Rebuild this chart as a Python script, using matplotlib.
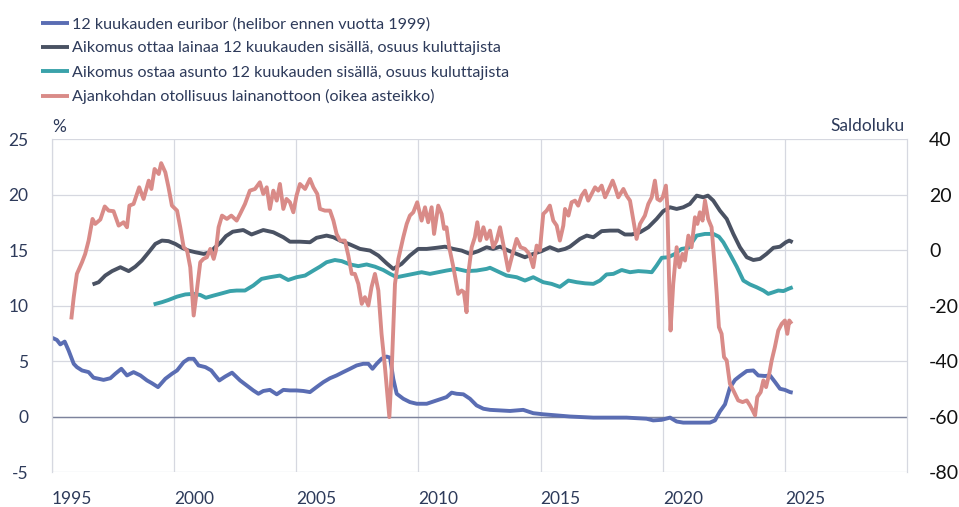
import matplotlib

matplotlib.use("Agg")
import matplotlib.pyplot as plt  # noqa: E402

plt.rcParams["font.family"] = ["Lato", "DejaVu Sans"]

NAVY = "#2d3a5a"
BLUE = "#5a6db3"
GRAY = "#4a5263"
TEAL = "#3aa2aa"
PINK = "#d98b88"
GRID = "#d6d8e0"

# 12 month euribor (helibor before 1999), %
euribor_x = [1995.0, 1995.2, 1995.34, 1995.52, 1995.68, 1995.89, 1996.02, 1996.23, 1996.5, 1996.7,
             1996.91, 1997.11, 1997.39, 1997.59, 1997.84, 1998.07, 1998.34, 1998.62, 1998.89, 1999.09,
             1999.34, 1999.64, 1999.91, 2000.12, 2000.39, 2000.59, 2000.8, 2001.0, 2001.28, 2001.52,
             2001.68, 2001.85, 2002.09, 2002.37, 2002.7, 2002.97, 2003.24, 2003.45, 2003.65, 2003.92,
             2004.2, 2004.47, 2004.74, 2005.01, 2005.29, 2005.56, 2005.83, 2006.11, 2006.38, 2006.65,
             2006.92, 2007.2, 2007.47, 2007.74, 2007.95, 2008.12, 2008.29, 2008.49, 2008.7, 2008.84,
             2008.97, 2009.11, 2009.38, 2009.65, 2009.93, 2010.34, 2010.61, 2010.95, 2011.15, 2011.36,
             2011.56, 2011.84, 2012.11, 2012.38, 2012.66, 2012.93, 2013.34, 2013.75, 2014.29, 2014.7,
             2015.11, 2015.66, 2016.2, 2017.16, 2018.52, 2019.34, 2019.61, 2019.95, 2020.3, 2020.57,
             2020.84, 2021.25, 2021.93, 2022.14, 2022.34, 2022.55, 2022.75, 2022.96, 2023.16, 2023.44,
             2023.71, 2023.91, 2024.19, 2024.39, 2024.6, 2024.8, 2025.0, 2025.21, 2025.32]
euribor_y = [7.1, 6.9, 6.5, 6.75, 5.95, 4.75, 4.45, 4.15, 4.0, 3.5,
             3.4, 3.3, 3.45, 3.85, 4.3, 3.7, 4.0, 3.7, 3.25, 3.0,
             2.65, 3.4, 3.85, 4.15, 4.9, 5.2, 5.2, 4.6, 4.45, 4.15,
             3.7, 3.25, 3.6, 3.95, 3.25, 2.8, 2.35, 2.05, 2.3, 2.4,
             2.0, 2.4, 2.35, 2.35, 2.3, 2.2, 2.65, 3.1, 3.45, 3.7,
             4.0, 4.3, 4.6, 4.75, 4.75, 4.3, 4.75, 5.2, 5.4, 5.3,
             3.4, 2.05, 1.6, 1.3, 1.15, 1.15, 1.35, 1.6, 1.75, 2.15,
             2.05, 2.0, 1.6, 1.0, 0.7, 0.6, 0.55, 0.5, 0.6, 0.3,
             0.2, 0.1, 0.0, -0.1, -0.1, -0.2, -0.35, -0.3, -0.1, -0.45,
             -0.55, -0.55, -0.55, -0.35, 0.45, 1.1, 2.6, 3.3, 3.65, 4.1,
             4.15, 3.7, 3.65, 3.7, 3.1, 2.5, 2.4, 2.2, 2.15]

# intends to take a loan within 12 months, share of consumers, %
loan_x = [1996.66, 1996.91, 1997.18, 1997.46, 1997.8, 1998.14, 1998.41, 1998.68, 1998.96, 1999.23,
          1999.5, 1999.77, 2000.05, 2000.32, 2000.59, 2000.87, 2001.21, 2001.48, 2001.68, 2001.89,
          2002.12, 2002.4, 2002.83, 2003.17, 2003.65, 2004.06, 2004.47, 2004.74, 2005.15, 2005.56,
          2005.83, 2006.24, 2006.52, 2006.79, 2007.2, 2007.61, 2008.02, 2008.36, 2008.7, 2008.97,
          2009.31, 2009.65, 2009.99, 2010.34, 2010.74, 2011.09, 2011.43, 2011.77, 2012.11, 2012.45,
          2012.79, 2013.06, 2013.34, 2013.68, 2014.02, 2014.36, 2014.7, 2015.04, 2015.38, 2015.72,
          2016.0, 2016.2, 2016.61, 2016.89, 2017.16, 2017.5, 2017.84, 2018.18, 2018.45, 2018.73,
          2019.07, 2019.41, 2019.75, 2020.02, 2020.3, 2020.57, 2020.84, 2021.11, 2021.39, 2021.66,
          2021.85, 2022.07, 2022.34, 2022.62, 2022.89, 2023.16, 2023.44, 2023.71, 2023.98, 2024.25,
          2024.53, 2024.8, 2025.04, 2025.18, 2025.32]
loan_y = [11.9, 12.1, 12.7, 13.1, 13.45, 13.1, 13.5, 14.05, 14.8, 15.55,
          15.85, 15.8, 15.55, 15.2, 14.95, 14.8, 14.65, 14.8, 15.25, 15.65,
          16.25, 16.65, 16.8, 16.4, 16.8, 16.6, 16.15, 15.75, 15.75, 15.7,
          16.1, 16.3, 16.15, 15.85, 15.5, 15.1, 14.95, 14.5, 13.8, 13.3,
          13.75, 14.5, 15.1, 15.1, 15.2, 15.3, 15.1, 14.95, 14.65, 14.9,
          15.25, 15.1, 15.3, 14.95, 14.65, 14.35, 14.65, 14.9, 15.25, 14.95,
          15.1, 15.3, 16.0, 16.3, 16.15, 16.7, 16.75, 16.75, 16.4, 16.4,
          16.6, 17.05, 17.8, 18.5, 18.85, 18.7, 18.85, 19.15, 19.9, 19.75,
          19.9, 19.45, 18.55, 17.8, 16.45, 15.25, 14.35, 14.1, 14.2, 14.65,
          15.2, 15.3, 15.7, 15.85, 15.7]

# intends to buy a dwelling within 12 months, share of consumers, %
house_x = [1999.16, 1999.5, 1999.77, 2000.12, 2000.46, 2000.8, 2001.07, 2001.3, 2001.62, 2001.96,
           2002.29, 2002.56, 2002.9, 2003.24, 2003.58, 2003.92, 2004.33, 2004.67, 2005.01, 2005.36,
           2005.7, 2005.97, 2006.24, 2006.58, 2006.86, 2007.2, 2007.54, 2007.88, 2008.22, 2008.56,
           2008.84, 2009.11, 2009.45, 2009.79, 2010.13, 2010.47, 2010.81, 2011.15, 2011.56, 2011.97,
           2012.38, 2012.79, 2012.93, 2013.27, 2013.61, 2014.02, 2014.36, 2014.7, 2015.11, 2015.45,
           2015.79, 2016.14, 2016.48, 2016.82, 2017.16, 2017.43, 2017.7, 2017.98, 2018.32, 2018.66,
           2019.0, 2019.34, 2019.55, 2019.75, 2019.96, 2020.23, 2020.5, 2020.77, 2021.05, 2021.39,
           2021.73, 2022.07, 2022.3, 2022.48, 2022.75, 2023.03, 2023.3, 2023.57, 2023.84, 2024.12,
           2024.32, 2024.53, 2024.73, 2024.94, 2025.14, 2025.32]
house_y = [10.1, 10.3, 10.5, 10.8, 11.0, 11.05, 10.95, 10.7, 10.9, 11.1,
           11.3, 11.35, 11.35, 11.8, 12.4, 12.55, 12.7, 12.3, 12.55, 12.7,
           13.15, 13.5, 13.9, 14.1, 14.0, 13.7, 13.55, 13.7, 13.5, 13.2,
           12.85, 12.55, 12.7, 12.85, 13.0, 12.85, 13.0, 13.15, 13.3, 13.1,
           13.15, 13.3, 13.4, 13.05, 12.7, 12.55, 12.25, 12.55, 12.1, 11.95,
           11.68, 12.25, 12.1, 12.0, 11.95, 12.25, 12.8, 12.85, 13.2, 13.0,
           13.1, 13.05, 13.0, 13.6, 14.3, 14.35, 14.65, 15.1, 15.2, 16.3,
           16.45, 16.45, 16.2, 15.7, 14.65, 13.5, 12.25, 11.9, 11.65, 11.35,
           11.05, 11.2, 11.35, 11.3, 11.5, 11.65]

# favourability of the time to take a loan, balance figure (right axis)
timing_x = [1995.79, 1995.89, 1996.02, 1996.23, 1996.36, 1996.5, 1996.66, 1996.77, 1996.98, 1997.16,
            1997.32, 1997.52, 1997.73, 1997.93, 1998.07, 1998.17, 1998.34, 1998.57, 1998.75, 1998.96,
            1999.07, 1999.2, 1999.37, 1999.47, 1999.64, 1999.77, 1999.91, 2000.12, 2000.25, 2000.39,
            2000.53, 2000.66, 2000.8, 2000.93, 2001.07, 2001.2, 2001.34, 2001.48, 2001.62, 2001.71,
            2001.82, 2001.96, 2002.16, 2002.34, 2002.56, 2002.7, 2002.9, 2003.1, 2003.31, 2003.51,
            2003.65, 2003.79, 2003.92, 2004.06, 2004.2, 2004.33, 2004.47, 2004.6, 2004.74, 2004.88,
            2005.01, 2005.15, 2005.36, 2005.56, 2005.7, 2005.86, 2005.97, 2006.17, 2006.38, 2006.52,
            2006.65, 2006.79, 2006.99, 2007.13, 2007.27, 2007.4, 2007.54, 2007.68, 2007.81, 2007.95,
            2008.08, 2008.22, 2008.36, 2008.49, 2008.63, 2008.81, 2008.9, 2009.04, 2009.18, 2009.38,
            2009.52, 2009.65, 2009.79, 2009.95, 2010.13, 2010.27, 2010.4, 2010.54, 2010.64, 2010.81,
            2010.95, 2011.05, 2011.15, 2011.26, 2011.43, 2011.63, 2011.77, 2011.86, 2011.97, 2012.04,
            2012.18, 2012.31, 2012.41, 2012.52, 2012.66, 2012.79, 2012.93, 2013.06, 2013.2, 2013.34,
            2013.47, 2013.68, 2013.82, 2014.02, 2014.18, 2014.36, 2014.54, 2014.7, 2014.84, 2014.97,
            2015.11, 2015.25, 2015.38, 2015.52, 2015.66, 2015.79, 2015.93, 2016.0, 2016.14, 2016.27,
            2016.41, 2016.54, 2016.68, 2016.82, 2016.95, 2017.09, 2017.23, 2017.36, 2017.5, 2017.64,
            2017.77, 2017.95, 2018.05, 2018.18, 2018.39, 2018.52, 2018.66, 2018.8, 2018.93, 2019.07,
            2019.27, 2019.41, 2019.55, 2019.68, 2019.78, 2019.89, 2020.0, 2020.13, 2020.19, 2020.27,
            2020.32, 2020.43, 2020.57, 2020.68, 2020.81, 2020.91, 2021.05, 2021.18, 2021.32, 2021.42,
            2021.52, 2021.63, 2021.73, 2021.86, 2022.0, 2022.12, 2022.21, 2022.3, 2022.41, 2022.51,
            2022.62, 2022.75, 2022.89, 2023.09, 2023.27, 2023.44, 2023.57, 2023.68, 2023.78, 2023.87,
            2024.01, 2024.12, 2024.23, 2024.36, 2024.46, 2024.59, 2024.73, 2024.87, 2025.0, 2025.1,
            2025.18, 2025.28]
timing_y = [-25, -17, -8.6, -4.4, -1.4, 3.4, 11.2, 9.4, 11, 15.7,
            14.2, 14, 8.8, 10, 8.2, 16, 16.6, 22.6, 18.4, 25,
            22, 29.2, 27.4, 31.3, 28, 22.6, 16, 14.2, 8.2, 1,
            -0.2, -6.2, -23.6, -14.6, -4.4, -3.2, -2.6, 0.4, -3.2, -0.2,
            8.2, 12.4, 11.2, 12.4, 10.6, 13, 16.6, 21.4, 22, 24.4,
            20.2, 22.6, 14.8, 21.4, 17.8, 23.8, 14.8, 18.4, 17.2, 13.6,
            19.6, 23.8, 22, 25.6, 22.6, 20.2, 14.8, 14.2, 14.2, 10.6,
            5.8, 3.4, 3.4, -2, -8.6, -8.6, -12.2, -19.4, -17, -20,
            -13.4, -8.6, -14.6, -30.2, -42.2, -60.2, -44.6, -12.2, -3.2, 4.6,
            9.4, 12.4, 13.6, 17.2, 10.6, 15.4, 10, 15.4, 5.8, 16,
            13, 7.6, 8.2, 1, -6.2, -15.8, -14.6, -15.2, -22.4, -8.6,
            1, 4.6, 10, 3.4, 8.2, 4, 7, 1, 3.4, 8.2,
            2.2, -7.4, -2.6, 4, 1, 0.4, -1.4, -6.2, 1.6, -0.2,
            13, 14.2, 16, 10.6, 8.8, 3.4, 8.8, 14.8, 12.4, 17.2,
            17.8, 16, 19.6, 21.4, 17.8, 20.2, 22.6, 21.4, 23.2, 19,
            21.4, 25, 22.6, 19, 22, 19.6, 17.8, 10.6, 4, 9.4,
            12.4, 16.6, 19, 25, 18.4, 17.8, 19, 23.2, 15.4, -14.6,
            -29, -12.2, 1, -6.2, -1.4, -3.8, 5.2, 1, 11.8, 9.4,
            13.6, 10.6, 17.8, 11.2, 8.2, -5, -15.8, -27.8, -30.2, -38.6,
            -39.8, -48.2, -50.6, -54.2, -54.8, -54.2, -56, -57.8, -59.6, -53,
            -51.2, -47, -49.4, -44.6, -39.8, -35, -29, -26.6, -25.4, -30.2,
            -25.4, -26.6]

labels = [
    "12 kuukauden euribor (helibor ennen vuotta 1999)",
    "Aikomus ottaa lainaa 12 kuukauden sisällä, osuus kuluttajista",
    "Aikomus ostaa asunto 12 kuukauden sisällä, osuus kuluttajista",
    "Ajankohdan otollisuus lainanottoon (oikea asteikko)",
]
year_ticks = [1995, 2000, 2005, 2010, 2015, 2020, 2025]
left_ticks = [-5, 0, 5, 10, 15, 20, 25]
right_ticks = [-80, -60, -40, -20, 0, 20, 40]

fig = plt.figure(figsize=(9.59, 5.07), dpi=100)
ax = fig.add_axes([0.0542, 0.069, 0.8916, 0.6568])
ax2 = ax.twinx()

lw = 2.8
h1, = ax.plot(euribor_x, euribor_y, color=BLUE, lw=lw, solid_capstyle="butt")
h2, = ax.plot(loan_x, loan_y, color=GRAY, lw=lw, solid_capstyle="butt")
h3, = ax.plot(house_x, house_y, color=TEAL, lw=lw, solid_capstyle="butt")
h4, = ax2.plot(timing_x, timing_y, color=PINK, lw=lw, solid_capstyle="butt")

ax.set_xlim(1995, 2030)
ax.set_ylim(-5, 25)
ax2.set_ylim(-80, 40)

ax.set_yticks(left_ticks)
ax.set_yticklabels([str(t) for t in left_ticks])
ax2.set_yticks(right_ticks)
ax2.set_yticklabels([str(t) for t in right_ticks])
ax.set_xticks(year_ticks)
ax.set_xticklabels([str(t) for t in year_ticks], ha="left")

ax.grid(True, color=GRID, lw=0.9)
ax.axhline(0, color="#7d839c", lw=1.0, zorder=1)
ax.set_axisbelow(True)

for a in (ax, ax2):
    for s in a.spines.values():
        s.set_visible(False)
    a.spines["left"].set_visible(True)
    a.spines["left"].set_color(GRID)
    a.spines["right"].set_visible(True)
    a.spines["right"].set_color(GRID)

ax.tick_params(axis="y", length=0, pad=17, labelsize=12.5, labelcolor=NAVY)
ax.tick_params(axis="x", length=0, pad=14, labelsize=12.5, labelcolor=NAVY)
ax2.tick_params(axis="y", length=0, pad=16, labelsize=14, labelcolor="#111111")

fig.text(52 / 959, 1 - 127 / 507, "%", fontsize=12.5, color=NAVY, va="center", ha="left")
fig.text(905 / 959, 1 - 126 / 507, "Saldoluku", fontsize=12.5, color=NAVY, va="center", ha="right")

fig.legend([h1, h2, h3, h4], labels, loc="upper left", bbox_to_anchor=(41 / 959, 1 - 17 / 507),
           frameon=False, fontsize=11.6, handlelength=1.75, handletextpad=0.15,
           labelspacing=0.61, labelcolor=NAVY, borderaxespad=0, borderpad=0)

fig.savefig("out.png", dpi=100)
